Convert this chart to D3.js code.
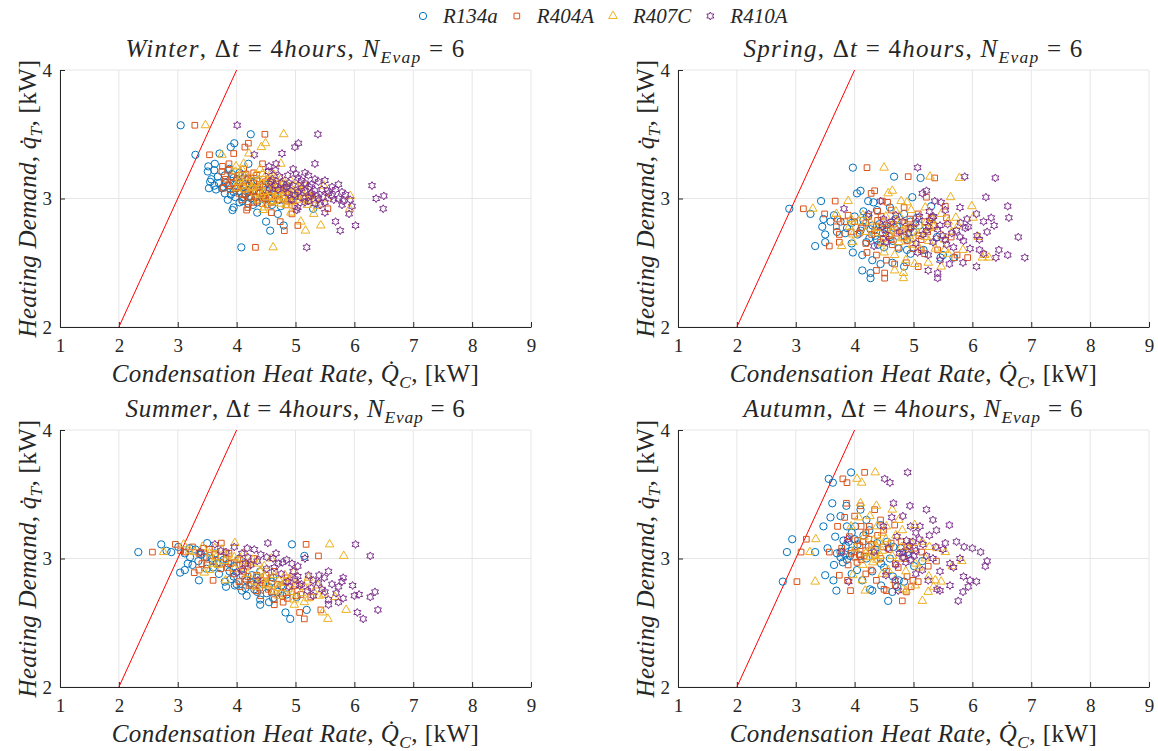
<!DOCTYPE html>
<html>
<head>
<meta charset="utf-8">
<script src="https://cdn.jsdelivr.net/npm/d3@7"></script>
<style>
  body { margin: 0; background: #fff; }
</style>
</head>
<body>
<svg id="chart" width="1158" height="751"></svg>
<script>
const refrigerants = ["R134a", "R404A", "R407C", "R410A"];
const colors = ["#0072BD", "#D95319", "#EDB120", "#7E2F8E"];
const seasons = ["Winter", "Spring", "Summer", "Autumn"];
const xTicks = [1, 2, 3, 4, 5, 6, 7, 8, 9];
const yTicks = [2, 3, 4];
const refLine = [[2, 2], [4, 4]];
const serif = "'Liberation Serif', 'Times New Roman', serif";

// Winter: heating demand (shared) and condensation heat rate per refrigerant
const winterDemand = [3.57,3.50,3.43,3.40,3.35,3.34,3.27,3.27,3.25,3.21,3.20,3.18,3.16,3.15,3.14,3.13,3.12,3.11,3.10,3.10,3.09,3.08,3.08,3.07,3.06,3.05,3.04,3.03,3.03,3.02,3.02,3.01,3.00,3.00,2.99,2.98,2.97,2.95,2.93,2.92,2.91,2.89,2.88,2.82,2.79,2.75,2.62,3.12,3.09,3.06,3.04,3.01,2.99,3.14,3.18,3.07,2.96,3.11,3.23,2.94,
  3.22,3.17,3.13,3.10,3.08,3.06,3.05,3.04,3.02,3.00,2.98,2.97,3.12,3.15,3.09,3.01,2.95,3.07,3.19,2.99];
const winterR134a = [3.05,4.24,3.96,3.90,3.71,3.30,4.20,3.63,3.52,3.51,4.05,3.80,3.95,3.57,4.00,4.25,3.70,4.15,3.88,4.85,4.45,3.53,3.75,4.30,4.05,3.95,4.40,3.90,4.65,4.22,5.00,4.10,4.55,4.90,3.85,4.10,4.35,4.60,3.95,5.30,3.93,4.35,4.70,4.50,4.80,4.57,4.08,3.82,4.12,4.20,3.80,4.32,4.48,4.35,4.10,3.65,4.20,4.55,3.88,4.75,
  3.62,3.68,3.55,3.62,4.00,4.38,4.60,4.15,4.45,4.25,4.62,4.05,4.05,4.20,3.78,3.98,4.28,4.50,3.92,4.72];
const winterR404A = [3.29,4.48,4.20,4.14,3.95,3.54,4.44,3.87,3.76,3.75,4.29,4.04,4.19,3.81,4.24,4.49,3.94,4.39,4.12,5.09,4.69,3.77,3.99,4.54,4.29,4.19,4.64,4.14,4.89,4.46,5.24,4.34,4.79,5.14,4.09,4.34,4.59,4.84,4.19,5.55,4.17,4.59,4.94,4.74,5.04,4.81,4.32,4.06,4.36,4.44,4.04,4.56,4.72,4.59,4.34,3.89,4.44,4.79,4.12,4.99,
  3.86,3.92,3.79,3.86,4.24,4.62,4.84,4.39,4.69,4.49,4.86,4.29,4.29,4.44,4.02,4.22,4.52,4.74,4.16,4.96];
const winterR407C = [3.47,4.80,4.49,4.42,4.21,3.75,4.75,4.12,3.99,3.98,4.59,4.31,4.47,4.05,4.53,4.81,4.19,4.70,4.40,5.48,5.03,4.00,4.25,4.87,4.59,4.47,4.98,4.42,5.26,4.78,5.93,4.64,5.15,5.54,4.36,4.64,4.92,5.20,4.47,5.92,4.45,4.92,5.31,5.09,5.43,5.17,4.62,4.33,4.66,4.75,4.31,4.89,5.07,4.92,4.64,4.14,4.75,5.15,4.40,5.37,
  4.10,4.17,4.03,4.10,4.53,4.96,5.20,4.70,5.03,4.81,5.22,4.59,4.59,4.75,4.28,4.51,4.84,5.09,4.44,5.34];
const winterR410A = [4.01,5.38,5.05,4.99,4.77,4.30,5.33,4.67,4.55,4.54,5.16,4.87,5.04,4.61,5.10,5.39,4.76,5.27,4.96,6.30,5.62,4.56,4.81,5.45,5.16,5.04,5.56,4.99,5.85,5.35,6.50,5.22,5.73,6.37,4.93,5.22,5.50,5.79,5.04,6.49,5.02,5.50,5.91,5.68,6.02,5.76,5.19,4.89,5.24,5.33,4.87,5.47,5.65,5.50,5.22,4.70,5.33,5.73,4.96,5.96,
  4.66,4.73,4.58,4.66,5.10,5.54,5.79,5.27,5.62,5.39,5.81,5.16,5.16,5.33,4.85,5.08,5.42,5.68,5.01,5.93];

// Spring
const springDemand = [3.24,3.17,3.16,3.06,3.04,3.01,2.98,2.98,2.97,2.92,2.91,2.88,2.88,2.86,2.85,2.85,2.84,2.82,2.82,2.82,2.81,2.78,2.78,2.78,2.77,2.76,2.73,2.72,2.71,2.70,2.68,2.68,2.66,2.63,2.60,2.60,2.58,2.56,2.56,2.54,2.54,2.50,2.49,2.47,2.44,2.42,2.38,2.75,2.72,2.70,2.80,2.66,2.74,2.86,2.62,2.93,
  2.83,2.79,2.77,2.75,2.73,2.71,2.69,2.67,2.65,2.81,2.84,2.64,2.87,2.79,2.61,2.90,2.52,2.57,2.74,2.94];
const springR134a = [3.97,4.67,5.12,4.10,4.04,4.98,3.43,4.23,4.32,2.89,4.38,3.25,4.84,4.21,5.06,5.32,3.47,3.59,3.76,4.95,4.61,3.45,4.13,4.72,3.87,4.27,3.84,3.50,4.35,5.40,4.38,4.89,3.50,3.33,4.89,5.17,3.97,4.13,5.50,5.68,5.46,4.64,4.44,4.84,4.13,4.27,4.27,4.55,4.05,4.60,4.42,4.20,5.00,4.00,4.50,4.60,
  4.15,4.30,4.68,4.10,4.48,4.85,4.25,4.65,3.95,3.95,4.70,4.40,3.65,5.10,4.75,4.15,4.30,4.95,3.70,5.30];
const springR404A = [4.21,4.91,5.36,4.34,4.28,5.22,3.67,4.47,4.56,3.13,4.62,3.49,5.08,4.45,5.30,5.56,3.71,3.83,4.00,5.19,4.85,3.69,4.37,4.96,4.11,4.51,4.08,3.74,4.59,5.64,4.62,5.13,3.74,3.57,5.13,5.41,4.21,4.37,5.74,5.92,5.70,4.88,4.68,5.08,4.37,4.51,4.51,4.79,4.29,4.84,4.66,4.44,5.24,4.24,4.74,4.84,
  4.39,4.54,4.92,4.34,4.72,5.09,4.49,4.89,4.19,4.19,4.94,4.64,3.89,5.34,4.99,4.39,4.54,5.19,3.94,5.54];
const springR407C = [4.50,5.28,5.78,4.64,4.57,5.63,3.89,4.79,4.89,3.29,4.96,3.69,5.47,4.77,5.72,6.01,3.94,4.07,4.26,5.59,5.21,3.91,4.68,5.34,4.38,4.83,4.35,3.97,4.92,6.10,4.96,5.53,3.97,3.78,5.53,5.84,4.50,4.68,6.21,6.28,6.17,5.25,5.02,5.47,4.68,4.83,4.83,5.15,4.59,5.20,5.00,4.75,5.65,4.53,5.09,5.20,
  4.70,4.87,5.29,4.64,5.07,5.48,4.81,5.26,4.47,4.47,5.31,4.98,4.14,5.76,5.37,4.70,4.87,5.59,4.19,5.99];
const springR410A = [5.07,5.87,6.39,5.22,5.15,6.23,4.44,5.36,5.47,3.82,5.54,4.24,6.07,5.34,6.32,6.62,4.49,4.63,4.82,6.19,5.80,4.47,5.25,5.93,4.95,5.41,4.92,4.53,5.50,6.78,5.54,6.12,4.53,4.33,6.12,6.45,5.07,5.25,6.60,6.89,6.40,5.84,5.61,6.07,5.25,5.41,5.41,5.73,5.16,5.79,5.58,5.33,6.25,5.10,5.68,5.79,
  5.27,5.45,5.88,5.22,5.65,6.08,5.39,5.85,5.04,5.04,5.91,5.56,4.70,6.37,5.96,5.27,5.45,6.19,4.76,6.60];

// Summer
const summerDemand = [3.05,3.11,3.06,3.05,3.09,3.12,3.04,3.01,2.96,2.89,2.91,2.83,2.92,2.82,2.78,2.79,2.75,2.71,2.83,2.64,2.73,2.69,2.58,2.53,3.11,3.02,2.60,2.87,2.85,2.96,2.96,3.01,3.04,2.85,2.79,2.70,2.72,2.98,2.94,2.88,2.80,2.76,3.00,2.86,2.74,2.68,3.07,2.99,
  3.03,3.00,2.97,2.93,2.90,2.87,2.84,2.81,2.78,2.77,2.74,2.71,2.82,2.95,3.08,2.66,2.90,2.80];
const summerR134a = [2.33,2.72,2.81,2.89,3.01,3.50,3.12,3.21,3.17,3.04,3.12,3.36,3.49,3.80,3.82,3.97,4.09,4.17,4.17,4.40,4.51,4.62,4.83,4.91,4.94,5.15,5.19,4.26,4.34,3.86,3.66,3.49,3.63,4.62,4.76,5.02,4.85,3.35,3.95,3.70,4.45,4.30,4.05,3.95,4.70,4.40,3.30,3.78,
  3.40,3.58,3.72,3.60,3.88,4.10,3.90,4.25,4.55,4.15,4.35,4.78,4.60,3.25,3.20,4.55,4.40,4.00];
const summerR404A = [2.57,2.96,3.05,3.13,3.25,3.74,3.36,3.45,3.41,3.28,3.36,3.60,3.73,4.04,4.06,4.21,4.33,4.41,4.41,4.64,4.75,4.86,5.07,5.15,5.18,5.39,5.43,4.50,4.58,4.10,3.90,3.73,3.87,4.86,5.00,5.26,5.09,3.59,4.19,3.94,4.69,4.54,4.29,4.19,4.94,4.64,3.54,4.02,
  3.64,3.82,3.96,3.84,4.12,4.34,4.14,4.49,4.79,4.39,4.59,5.02,4.84,3.49,3.44,4.79,4.64,4.24];
const summerR407C = [2.76,3.10,3.20,3.29,3.42,3.97,3.54,3.65,3.60,3.45,3.54,3.81,3.96,4.31,4.33,4.50,4.63,4.72,4.72,4.98,5.10,5.22,5.46,5.55,5.58,5.82,5.86,4.82,4.91,4.37,4.15,3.96,4.12,5.22,5.38,5.67,5.48,3.80,4.47,4.19,5.03,4.87,4.59,4.47,5.31,4.98,3.75,4.28,
  3.86,4.06,4.22,4.08,4.40,4.64,4.42,4.81,5.15,4.70,4.92,5.40,5.20,3.69,3.63,5.15,4.98,4.53];
const summerR410A = [3.38,3.63,3.73,3.82,3.96,4.53,4.09,4.19,4.15,4.00,4.09,4.36,4.51,4.87,4.89,5.07,5.20,5.30,5.30,5.56,5.69,5.81,6.05,6.15,6.02,6.27,6.40,5.40,5.49,4.94,4.71,4.51,4.67,5.81,5.97,6.27,6.08,4.35,5.04,4.76,5.62,5.45,5.16,5.04,6.35,5.56,4.30,4.85,
  4.41,4.62,4.78,4.64,4.96,5.22,4.99,5.39,5.73,5.27,5.50,6.00,5.79,4.24,4.18,5.73,5.56,5.10];

// Autumn
const autumnDemand = [2.82,3.05,3.15,3.62,3.59,3.67,3.43,3.33,3.32,3.41,3.38,3.25,3.25,3.25,3.17,3.13,3.14,3.05,3.08,3.05,3.03,2.99,3.01,2.87,2.83,2.75,2.91,2.83,2.76,2.75,2.67,2.74,2.78,2.83,2.82,2.98,2.94,3.12,3.26,3.18,3.09,3.08,3.11,3.09,3.06,3.02,2.96,3.00,2.90,3.20,
  3.04,3.02,3.00,2.97,3.07,3.10,2.93,2.88,3.13,3.22,2.86,3.05,2.79,3.30,3.15,2.95];
const autumnR134a = [2.78,2.85,2.94,3.56,3.63,3.94,3.62,3.76,3.59,3.86,4.10,3.47,3.87,4.01,3.67,3.90,3.81,3.33,3.54,3.76,3.84,3.87,3.76,3.50,3.64,3.69,4.04,4.13,4.26,4.30,4.57,4.64,4.72,4.75,4.84,5.15,5.01,4.38,4.44,4.15,4.66,4.78,4.05,4.24,3.95,4.10,4.45,4.60,4.30,3.95,
  3.70,3.92,4.20,3.80,4.35,3.85,4.50,3.95,4.55,4.25,4.65,4.90,4.45,4.20,4.00,3.65];
const autumnR404A = [3.02,3.09,3.18,3.80,3.87,4.17,3.86,4.00,3.83,4.10,4.34,3.71,4.11,4.25,3.91,4.14,4.05,3.57,3.78,4.00,4.08,4.11,4.00,3.74,3.88,3.93,4.28,4.37,4.50,4.54,4.81,4.88,4.96,4.99,5.08,5.39,5.25,4.62,4.68,4.39,4.90,5.02,4.29,4.48,4.19,4.34,4.69,4.84,4.54,4.19,
  3.94,4.16,4.44,4.04,4.59,4.09,4.74,4.19,4.79,4.49,4.89,5.14,4.69,4.44,4.24,3.89];
const autumnR407C = [3.33,3.24,3.34,4.04,4.12,4.35,4.10,4.26,4.07,4.37,4.64,3.94,4.38,4.54,4.16,4.42,4.32,3.78,4.01,4.26,4.35,4.38,4.26,3.97,4.13,4.18,4.57,4.68,4.82,4.87,5.15,5.25,5.34,5.37,5.47,5.82,5.66,4.96,5.02,4.70,5.27,5.40,4.59,4.80,4.47,4.64,5.03,5.20,4.87,4.47,
  4.19,4.44,4.75,4.31,4.92,4.36,5.09,4.47,5.15,4.81,5.26,5.54,5.03,4.75,4.53,4.14];
const autumnR410A = [3.90,3.78,3.88,4.51,4.60,4.90,4.66,4.82,4.63,4.94,5.22,4.49,4.95,5.11,4.72,4.99,4.88,4.33,4.57,4.82,4.92,4.95,4.82,4.53,4.69,4.74,5.15,5.25,5.40,5.45,5.76,5.84,5.93,5.96,6.07,6.25,6.22,5.54,5.61,5.27,5.86,6.00,5.16,5.38,5.04,5.22,5.62,5.79,5.45,5.04,
  4.76,5.01,5.33,4.87,5.50,4.93,5.68,5.04,5.73,5.39,5.85,6.14,5.62,5.33,5.10,4.70];

const seasonData = {
  Winter: { demand: winterDemand, rates: [winterR134a, winterR404A, winterR407C, winterR410A] },
  Spring: { demand: springDemand, rates: [springR134a, springR404A, springR407C, springR410A] },
  Summer: { demand: summerDemand, rates: [summerR134a, summerR404A, summerR407C, summerR410A] },
  Autumn: { demand: autumnDemand, rates: [autumnR134a, autumnR404A, autumnR407C, autumnR410A] }
};

const svg = d3.select("#chart");
const plotW = 471, plotH = 257;
const panelPos = [
  { left: 60, top: 70 },
  { left: 678, top: 70 },
  { left: 60, top: 430 },
  { left: 678, top: 430 }
];

const x = d3.scaleLinear().domain([1, 9]).range([0, plotW]);
const y = d3.scaleLinear().domain([2, 4]).range([plotH, 0]);

// hexagram path (6-pointed star outline)
function hexagram(r) {
  const pts = d3.range(12).map(k => {
    const a = k * Math.PI / 6 - Math.PI / 2;
    const rr = k % 2 === 0 ? r : r * 0.58;
    return [rr * Math.cos(a), rr * Math.sin(a)];
  });
  return "M" + pts.map(p => p.join(",")).join("L") + "Z";
}

const markerPath = [
  d3.symbol().type(d3.symbolCircle).size(42)(),
  d3.symbol().type(d3.symbolSquare).size(32)(),
  d3.symbol().type(d3.symbolTriangle).size(32)(),
  hexagram(4)
];

// writes LaTeX-like text made of italic / upright / subscript parts,
// then spreads the letters so the text takes the wanted width
function mathText(sel, parts, size, width) {
  sel.style("font-family", serif).style("font-size", size + "px").attr("fill", "#262626");
  let shifted = false;
  parts.forEach(p => {
    const t = sel.append("tspan").text(p.t)
      .style("font-style", p.i ? "italic" : "normal");
    if (p.sub) {
      t.attr("dy", size * 0.25).style("font-size", (size * 0.7) + "px");
      shifted = true;
    } else if (shifted) {
      t.attr("dy", -size * 0.25);
      shifted = false;
    }
  });
  if (width) {
    const n = sel.text().length;
    const w = sel.node().getComputedTextLength();
    sel.style("letter-spacing", ((width - w) / n) + "px");
  }
}

seasons.forEach((season, si) => {
  const pos = panelPos[si];
  const d = seasonData[season];
  const g = svg.append("g").attr("transform", `translate(${pos.left},${pos.top})`);

  // grid
  g.append("g").selectAll("line").data(xTicks).enter().append("line")
    .attr("x1", v => x(v)).attr("x2", v => x(v))
    .attr("y1", 0).attr("y2", plotH)
    .attr("stroke", "#e6e6e6").attr("stroke-width", 1);
  g.append("g").selectAll("line").data(yTicks).enter().append("line")
    .attr("x1", 0).attr("x2", plotW)
    .attr("y1", v => y(v)).attr("y2", v => y(v))
    .attr("stroke", "#e6e6e6").attr("stroke-width", 1);

  // axes
  const xAxis = g.append("g").attr("transform", `translate(0,${plotH})`)
    .call(d3.axisBottom(x).tickValues(xTicks).tickSizeInner(-5).tickSizeOuter(0).tickPadding(12).tickFormat(d3.format("d")));
  const yAxis = g.append("g")
    .call(d3.axisLeft(y).tickValues(yTicks).tickSizeInner(-5).tickSizeOuter(0).tickPadding(8).tickFormat(d3.format("d")));
  [xAxis, yAxis].forEach(a => {
    a.attr("font-family", null).attr("font-size", null);
    a.select(".domain").attr("stroke", "#262626");
    a.selectAll(".tick line").attr("stroke", "#262626");
    a.selectAll(".tick text").style("font-family", serif).style("font-size", "19px").attr("fill", "#262626");
  });

  // reference line
  g.append("path").datum(refLine)
    .attr("d", d3.line().x(p => x(p[0])).y(p => y(p[1])))
    .attr("stroke", "#ff0000").attr("stroke-width", 1).attr("fill", "none");

  // markers
  refrigerants.forEach((r, ri) => {
    const pts = d.demand.map((q, k) => [d.rates[ri][k], q]);
    g.append("g").selectAll("path").data(pts).enter().append("path")
      .attr("d", markerPath[ri])
      .attr("transform", p => `translate(${x(p[0])},${y(p[1])})`)
      .attr("fill", "none").attr("stroke", colors[ri]).attr("stroke-width", 1);
  });

  // title
  mathText(g.append("text").attr("x", plotW / 2).attr("y", -13).attr("text-anchor", "middle"), [
    { t: season, i: true }, { t: ", Δ" }, { t: "t", i: true }, { t: " = 4" },
    { t: "hours", i: true }, { t: ", " }, { t: "N", i: true }, { t: "Evap", i: true, sub: true }, { t: " = 6" }
  ], 25, 340);

  // x label
  mathText(g.append("text").attr("x", plotW / 2).attr("y", plotH + 55).attr("text-anchor", "middle"), [
    { t: "Condensation Heat Rate", i: true }, { t: ", " }, { t: "Q\u0307", i: true },
    { t: "C", i: true, sub: true }, { t: ", [kW]" }
  ], 25, 368);

  // y label
  mathText(g.append("text").attr("transform", `translate(-24,${plotH / 2}) rotate(-90)`).attr("text-anchor", "middle"), [
    { t: "Heating Demand", i: true }, { t: ", " }, { t: "q\u0307", i: true },
    { t: "T", i: true, sub: true }, { t: ", [kW]" }
  ], 25, 278);
});

// legend
const legend = svg.append("g").attr("transform", "translate(423,16)");
let lx = 0;
refrigerants.forEach((r, ri) => {
  legend.append("path").attr("d", markerPath[ri])
    .attr("transform", `translate(${lx},0)`)
    .attr("fill", "none").attr("stroke", colors[ri]).attr("stroke-width", 1);
  const t = legend.append("text").attr("x", lx + 20).attr("y", 7)
    .style("font-family", serif).style("font-size", "21px").style("font-style", "italic")
    .attr("fill", "#262626").text(r);
  lx += 20 + t.node().getComputedTextLength() + 19;
});
</script>
</body>
</html>
